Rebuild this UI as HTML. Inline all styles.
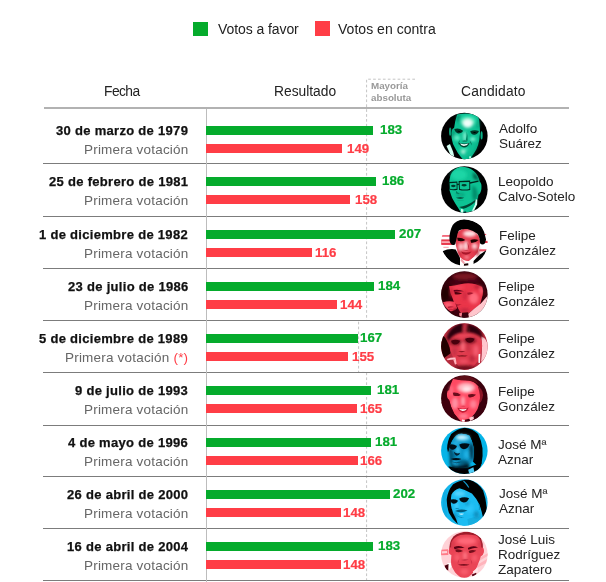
<!DOCTYPE html><html><head><meta charset="utf-8"><title>Investiduras</title><style>
html,body{margin:0;padding:0;background:#fff;}
body{width:606px;height:582px;position:relative;overflow:hidden;font-family:"Liberation Sans",sans-serif;color:#222;-webkit-font-smoothing:antialiased;}
.a{position:absolute;white-space:nowrap;}
.leg,.hd,.dt,.sub,.vg,.vr,.nm,.may{will-change:transform;}
.leg{font-size:14px;line-height:16px;color:#222;letter-spacing:-0.08px;}
.hd{font-size:13.8px;line-height:16px;color:#222;}
.dt{font-size:13px;line-height:16px;font-weight:bold;color:#111;right:417.7px;text-align:right;letter-spacing:0.3px;-webkit-text-stroke:0.25px #111;}
.sub{font-size:13.5px;line-height:16px;color:#666;right:417.7px;text-align:right;letter-spacing:0.2px;}
.st{color:#ff3d46;}
.bar{height:9.2px;left:206.1px;}
.g{background:#05ab2c;}
.r{background:#ff3d46;}
.vg{font-size:13.3px;line-height:16px;font-weight:bold;color:#05ab2c;-webkit-text-stroke:0.2px #05ab2c;}
.vr{font-size:13.3px;line-height:16px;font-weight:bold;color:#ff3d46;-webkit-text-stroke:0.2px #ff3d46;}
.nm{font-size:13.5px;line-height:14.8px;color:#222;left:499px;}
.sep{left:43.2px;width:525.4px;height:1px;background:#7c7c7c;}
.may{font-size:9.8px;line-height:11.4px;font-weight:bold;color:#999;left:370.8px;top:80.5px;}
</style></head><body>
<svg width="0" height="0" style="position:absolute"><defs><filter id="b6" x="-10%" y="-10%" width="120%" height="120%"><feGaussianBlur stdDeviation="6"/></filter><filter id="b10" x="-10%" y="-10%" width="120%" height="120%"><feGaussianBlur stdDeviation="10"/></filter><filter id="b16" x="-10%" y="-10%" width="120%" height="120%"><feGaussianBlur stdDeviation="16"/></filter><clipPath id="c0"><circle cx="295" cy="292.1" r="260.5"/></clipPath><clipPath id="c1"><circle cx="295" cy="286.5" r="260.5"/></clipPath><clipPath id="c2"><circle cx="295" cy="296.6" r="260.5"/></clipPath><clipPath id="c3"><circle cx="295" cy="285.4" r="260.5"/></clipPath><clipPath id="c4"><circle cx="295" cy="285.4" r="260.5"/></clipPath><clipPath id="c5"><circle cx="295" cy="285.4" r="260.5"/></clipPath><clipPath id="c6"><circle cx="295" cy="287.6" r="260.5"/></clipPath><clipPath id="c7"><circle cx="295" cy="285.4" r="260.5"/></clipPath><clipPath id="c8"><circle cx="295" cy="285.4" r="260.5"/></clipPath></defs></svg>
<div class="a g" style="left:193px;top:21.6px;width:15.3px;height:14.8px"></div>
<div class="a leg" style="left:217.6px;top:20.6px">Votos a favor</div>
<div class="a r" style="left:315.1px;top:21.4px;width:15.4px;height:14.9px"></div>
<div class="a leg" style="left:338px;top:20.6px;letter-spacing:0.03px">Votos en contra</div>
<div class="a hd" style="left:103.6px;top:84px;letter-spacing:-0.55px">Fecha</div>
<div class="a hd" style="left:273.6px;top:84px;letter-spacing:0px">Resultado</div>
<div class="a hd" style="left:461.4px;top:84px;letter-spacing:0.2px">Candidato</div>
<div class="a may" style="top:79.5px">Mayoría</div>
<div class="a may" style="top:92px">absoluta</div>
<svg class="a" style="left:0;top:0" width="606" height="582"><path d="M415 79.2H366.6V320.5H358.6V372.4H366.6V582" fill="none" stroke="#c4c4c4" stroke-width="1" stroke-dasharray="2.7 2.2"/></svg>
<div class="a" style="left:44.2px;top:107px;width:524.4px;height:2px;background:#b2b2b2"></div>
<div class="a sep" style="top:162.9px"></div>
<div class="a sep" style="top:216.0px"></div>
<div class="a sep" style="top:268.0px"></div>
<div class="a sep" style="top:320.0px"></div>
<div class="a sep" style="top:371.9px"></div>
<div class="a sep" style="top:424.9px"></div>
<div class="a sep" style="top:475.9px"></div>
<div class="a sep" style="top:527.7px"></div>
<div class="a sep" style="top:580.0px"></div>
<div class="a" style="left:205.7px;top:109px;width:1.2px;height:474px;background:#bdbdbd"></div>
<div class="a dt" style="top:122.7px">30 de marzo de 1979</div>
<div class="a sub" style="top:141.7px">Primera votación</div>
<div class="a bar g" style="top:126.1px;width:167.0px"></div>
<div class="a bar r" style="top:144.0px;width:136.0px"></div>
<div class="a vg" style="top:122.3px;left:379.5px">183</div>
<div class="a vr" style="top:140.9px;left:347.1px">149</div>
<div class="a nm" style="top:122.2px;left:499.1px">Adolfo<br>Suárez</div>
<svg class="a" style="left:438px;top:110px" width="52" height="52" viewBox="0 0 582 582"><g clip-path="url(#c0)"><rect width="582" height="582" fill="#000"/><g filter="url(#b6)"><path d="M215 50 Q330 22 440 60 L458 100 L468 200 Q476 260 462 335 Q450 400 430 440 Q402 490 376 522 L368 560 L285 560 Q250 520 222 480 Q192 430 168 380 Q155 340 152 300 Q150 250 160 215 L180 200 Q190 120 215 50Z" fill="#09c193"/><ellipse cx="136" cy="243" rx="13" ry="46" fill="#089a75"/><ellipse cx="488" cy="285" rx="12" ry="46" fill="#0ab58a"/></g><g filter="url(#b16)"><path d="M474 240 Q468 360 430 440 Q400 495 376 525 L368 526 Q430 440 454 350 Q462 290 474 240Z" fill="#058262"/><ellipse cx="172" cy="265" rx="12" ry="50" fill="#068a69"/><ellipse cx="232" cy="95" rx="20" ry="45" fill="#068a69"/><ellipse cx="448" cy="150" rx="12" ry="60" fill="#079a76"/><ellipse cx="335" cy="120" rx="90" ry="55" fill="#3ae6b8"/><ellipse cx="332" cy="150" rx="58" ry="48" fill="#f0fffa"/><ellipse cx="300" cy="295" rx="15" ry="55" fill="#a0fae0"/><ellipse cx="212" cy="312" rx="32" ry="28" fill="#62f0c8"/><ellipse cx="388" cy="326" rx="30" ry="22" fill="#8af7da"/><ellipse cx="290" cy="440" rx="50" ry="18" fill="#3ae6b8"/><ellipse cx="282" cy="474" rx="24" ry="15" fill="#e0fff4"/><ellipse cx="340" cy="530" rx="25" ry="10" fill="#07a27c"/></g><g filter="url(#b6)"><path d="M182 214 Q232 196 280 232 Q268 262 225 262 Q190 254 182 214Z" fill="#023527"/><path d="M360 238 Q410 218 458 236 Q445 276 405 278 Q368 272 360 238Z" fill="#023527"/><path d="M212 236 Q232 228 254 240 Q234 252 212 236Z" fill="#000"/><path d="M385 250 Q410 240 432 250 Q410 264 385 250Z" fill="#000"/><path d="M322 240 Q337 300 332 342 Q318 348 312 336 Q322 300 322 240Z" fill="#058262"/><path d="M266 346 Q300 360 334 346 Q300 336 266 346Z" fill="#035a44"/><path d="M245 333 Q220 360 227 395 Q238 365 245 333Z" fill="#035a44"/><path d="M352 338 Q380 365 377 398 Q363 367 352 338Z" fill="#035a44"/><path d="M230 366 Q290 385 354 366 Q337 418 290 421 Q248 414 230 366Z" fill="#034433"/><path d="M246 375 Q292 392 342 375 Q326 402 290 404 Q260 400 246 375Z" fill="#f2fffa"/><path d="M96 402 L134 380 L170 470 L182 520 L140 504Z" fill="#d4fff2"/><path d="M348 520 L366 515 L372 548 L350 552Z" fill="#b0ffe6"/></g></g></svg>
<div class="a dt" style="top:173.6px">25 de febrero de 1981</div>
<div class="a sub" style="top:192.6px">Primera votación</div>
<div class="a bar g" style="top:177.0px;width:169.7px"></div>
<div class="a bar r" style="top:194.9px;width:144.2px"></div>
<div class="a vg" style="top:173.2px;left:381.7px">186</div>
<div class="a vr" style="top:191.8px;left:355.4px">158</div>
<div class="a nm" style="top:175.3px;left:498.4px">Leopoldo<br>Calvo-Sotelo</div>
<svg class="a" style="left:438px;top:164px" width="52" height="52" viewBox="0 0 582 582"><g clip-path="url(#c1)"><rect width="582" height="582" fill="#000"/><g filter="url(#b6)"><path d="M140 125 Q175 55 250 32 Q335 28 400 78 Q450 120 468 200 Q492 215 486 280 Q478 330 452 345 Q448 380 438 400 L400 525 L262 552 Q225 490 195 445 Q150 380 130 300 Q118 200 140 125Z" fill="#0bc394"/></g><g filter="url(#b16)"><ellipse cx="235" cy="120" rx="90" ry="60" fill="#1fd6a6"/><path d="M395 90 Q450 130 462 200 Q440 170 400 165 Q385 130 395 90Z" fill="#035a44"/><path d="M380 240 Q440 250 445 350 Q435 400 415 420 Q380 400 385 330 Q390 280 380 240Z" fill="#068a69"/><ellipse cx="250" cy="345" rx="50" ry="14" fill="#079a76"/></g><g filter="url(#b6)"><path d="M235 482 Q320 475 424 398 L426 418 Q350 490 285 500Z" fill="#034433"/><path d="M422 398 L440 396 L438 452 L402 524 L380 524 L414 452Z" fill="#d4fff2"/><path d="M256 505 L284 508 L284 552 L258 552Z" fill="#d4fff2"/><path d="M284 534 L314 532 L316 556 L284 556Z" fill="#012"/><path d="M119 202 L216 195 L219 287 Q170 300 126 286Z M129 216 L207 210 L209 278 Q170 288 135 277Z" fill="#02281e" fill-rule="evenodd"/><path d="M231 190 L360 186 L361 290 Q300 304 236 290Z M242 205 L350 201 L351 280 Q300 292 246 280Z" fill="#02281e" fill-rule="evenodd"/><path d="M355 204 L452 186 L454 200 L358 222Z" fill="#02281e"/><path d="M214 222 L234 220 L234 236 L214 238Z" fill="#02281e"/><ellipse cx="172" cy="246" rx="26" ry="13" fill="#023a2c"/><ellipse cx="292" cy="238" rx="30" ry="13" fill="#023a2c"/><path d="M200 378 Q250 368 294 378 Q250 398 200 378Z" fill="#023a2c"/><path d="M205 300 Q215 325 245 330 Q225 340 200 328Z" fill="#058262"/><path d="M205 405 Q250 420 295 405 Q250 412 205 405Z" fill="#058262"/></g></g></svg>
<div class="a dt" style="top:226.6px">1 de diciembre de 1982</div>
<div class="a sub" style="top:245.7px">Primera votación</div>
<div class="a bar g" style="top:230.0px;width:188.9px"></div>
<div class="a bar r" style="top:248.0px;width:105.9px"></div>
<div class="a vg" style="top:226.2px;left:399.1px">207</div>
<div class="a vr" style="top:244.9px;left:315.4px">116</div>
<div class="a nm" style="top:229.1px;left:498.6px">Felipe<br>González</div>
<svg class="a" style="left:438px;top:216px" width="52" height="52" viewBox="0 0 582 582"><g clip-path="url(#c2)"><rect width="582" height="582" fill="#fff"/><g filter="url(#b6)"><rect x="30" y="214" width="110" height="18" fill="#f2566a"/><rect x="30" y="262" width="130" height="62" fill="#e8384c"/><rect x="38" y="284" width="95" height="16" fill="#ffc8ce"/><rect x="515" y="200" width="40" height="14" fill="#f2566a"/><rect x="490" y="278" width="70" height="24" fill="#e8384c"/><rect x="462" y="372" width="90" height="24" fill="#f2566a"/><rect x="60" y="345" width="60" height="10" fill="#f8909c"/></g><g filter="url(#b6)"><path d="M205 200 Q260 130 340 140 Q440 160 472 270 Q470 340 445 400 Q410 465 345 504 Q290 508 250 462 Q212 400 200 330 Q198 260 205 200Z" fill="#e43c50"/><path d="M244 466 L290 512 L350 510 L402 460 L402 570 L244 570Z" fill="#fff"/></g><g filter="url(#b16)"><ellipse cx="355" cy="198" rx="75" ry="34" fill="#ffe4e7"/><ellipse cx="312" cy="335" rx="18" ry="55" fill="#fff"/><ellipse cx="255" cy="345" rx="28" ry="42" fill="#ffc8ce"/><ellipse cx="408" cy="338" rx="30" ry="32" fill="#ffd0d6"/><ellipse cx="322" cy="462" rx="28" ry="16" fill="#ff98a4"/><ellipse cx="240" cy="420" rx="16" ry="40" fill="#c42c40"/><ellipse cx="440" cy="400" rx="20" ry="50" fill="#c02a3e"/></g><g filter="url(#b6)"><path d="M128 250 Q128 170 165 100 Q200 50 290 36 Q400 45 482 110 Q528 185 538 262 L526 304 Q498 332 470 304 Q470 240 440 200 Q400 165 330 146 Q262 138 232 165 Q212 200 206 262 L194 312 Q165 342 140 304 Q126 280 128 250Z" fill="#000"/><path d="M214 244 Q262 236 306 268 Q268 292 222 278Z" fill="#1a0004"/><path d="M364 268 Q410 253 454 270 Q420 304 370 298Z" fill="#1a0004"/><path d="M332 296 Q354 340 348 376 Q334 362 332 296Z" fill="#c42c40"/><path d="M282 384 Q315 394 346 382 Q315 376 282 384Z" fill="#c42c40"/><path d="M256 398 Q315 420 376 396 Q346 436 300 432 Q270 426 256 398Z" fill="#a8182c"/><path d="M50 394 Q120 362 198 374 L246 466 L246 570 L150 525 Q80 455 50 394Z" fill="#000"/><path d="M398 504 Q432 468 470 432 L540 382 Q535 455 450 528 L398 560Z" fill="#000"/><path d="M292 534 L338 530 L342 570 L288 570Z" fill="#1a0004"/><path d="M262 470 L300 520 L290 540 L252 500Z" fill="#f0a0aa"/></g></g></svg>
<div class="a dt" style="top:278.6px">23 de julio de 1986</div>
<div class="a sub" style="top:297.7px">Primera votación</div>
<div class="a bar g" style="top:282.0px;width:167.9px"></div>
<div class="a bar r" style="top:300.0px;width:131.4px"></div>
<div class="a vg" style="top:278.2px;left:377.9px">184</div>
<div class="a vr" style="top:296.9px;left:340.2px">144</div>
<div class="a nm" style="top:280.4px;left:498.4px">Felipe<br>González</div>
<svg class="a" style="left:438px;top:269px" width="52" height="52" viewBox="0 0 582 582"><g clip-path="url(#c3)"><rect width="582" height="582" fill="#34000a"/><g filter="url(#b16)"><ellipse cx="300" cy="85" rx="140" ry="40" fill="#7a1222"/><ellipse cx="380" cy="135" rx="90" ry="25" fill="#4a0612"/><ellipse cx="200" cy="150" rx="80" ry="22" fill="#4a0612"/><ellipse cx="80" cy="280" rx="45" ry="80" fill="#240005"/></g><g filter="url(#b6)"><path d="M123 192 Q190 186 250 170 Q340 150 420 170 Q470 187 495 202 Q510 250 500 292 Q485 350 470 400 L330 505 Q270 500 248 480 Q225 448 215 420 L200 392 Q172 378 168 340 Q135 270 123 192Z" fill="#ea344a"/><path d="M56 372 Q120 352 190 368 L215 440 Q190 480 140 472 Q85 442 56 372Z" fill="#f03e54"/><path d="M335 505 Q400 445 480 385 L560 295 L560 400 Q480 485 400 536 L345 548Z" fill="#ffc6cc"/><path d="M238 492 L272 488 L262 536 L238 520Z" fill="#ff8494"/></g><g filter="url(#b16)"><ellipse cx="400" cy="325" rx="55" ry="65" fill="#ff6a7c"/><ellipse cx="484" cy="242" rx="13" ry="40" fill="#ff7082"/><ellipse cx="230" cy="205" rx="70" ry="14" fill="#f8485e"/><ellipse cx="115" cy="400" rx="42" ry="20" fill="#ff7080"/><ellipse cx="200" cy="478" rx="26" ry="32" fill="#44000c"/><ellipse cx="300" cy="462" rx="50" ry="25" fill="#c82840"/><ellipse cx="300" cy="300" rx="30" ry="50" fill="#d42c42"/><ellipse cx="440" cy="200" rx="40" ry="20" fill="#c02238"/><ellipse cx="150" cy="260" rx="14" ry="50" fill="#c02238"/></g><g filter="url(#b6)"><path d="M174 236 Q230 222 290 248 Q232 252 178 254Z" fill="#64061a"/><path d="M184 258 Q225 250 270 275 Q228 292 188 282Z" fill="#500410"/><path d="M328 266 Q360 254 398 270 Q360 294 330 286Z" fill="#a8182e"/><path d="M198 392 Q230 402 264 392 Q235 412 208 410Z" fill="#a8182e"/><path d="M268 490 L338 484 L342 548 L272 548Z" fill="#3a000a"/><path d="M110 422 Q150 410 182 426 Q150 434 114 436Z" fill="#b01c32"/><path d="M120 446 Q150 440 176 450 Q150 458 124 456Z" fill="#c02238"/><path d="M500 200 Q540 220 548 290 L510 300 Q512 250 500 200Z" fill="#44000c"/></g></g></svg>
<div class="a dt" style="top:330.6px">5 de diciembre de 1989</div>
<div class="a sub" style="top:349.7px">Primera votación <span class='st'>(*)</span></div>
<div class="a bar g" style="top:334.0px;width:152.4px"></div>
<div class="a bar r" style="top:352.0px;width:141.5px"></div>
<div class="a vg" style="top:330.2px;left:359.7px">167</div>
<div class="a vr" style="top:348.9px;left:351.7px">155</div>
<div class="a nm" style="top:332.0px;left:497.7px">Felipe<br>González</div>
<svg class="a" style="left:438px;top:321px" width="52" height="52" viewBox="0 0 582 582"><g clip-path="url(#c4)"><rect width="582" height="582" fill="#b42a3c"/><g filter="url(#b6)"><path d="M20 180 L62 168 Q100 200 130 300 L142 362 L68 414 Q20 320 20 180Z" fill="#200006"/><path d="M484 170 Q560 200 560 300 Q545 420 482 458 Q502 300 484 170Z" fill="#ffc6ce"/><path d="M130 170 Q200 112 300 112 Q400 112 470 150 Q492 230 495 280 Q484 370 445 450 Q402 512 340 552 L300 552 Q240 524 200 472 Q165 402 140 332 Q118 250 130 170Z" fill="#e03a4e"/></g><g filter="url(#b16)"><ellipse cx="300" cy="168" rx="80" ry="18" fill="#ec485c"/><ellipse cx="278" cy="290" rx="16" ry="52" fill="#ff7888"/><ellipse cx="425" cy="330" rx="30" ry="65" fill="#f45c70"/><ellipse cx="185" cy="340" rx="28" ry="50" fill="#c83246"/><ellipse cx="340" cy="300" rx="22" ry="40" fill="#c83246"/><ellipse cx="285" cy="450" rx="50" ry="22" fill="#ee5064"/><ellipse cx="300" cy="528" rx="120" ry="34" fill="#700c1c"/><ellipse cx="380" cy="420" rx="30" ry="40" fill="#c02c40"/><ellipse cx="198" cy="238" rx="70" ry="34" fill="#7a1020"/><ellipse cx="357" cy="220" rx="70" ry="34" fill="#7a1020"/></g><g filter="url(#b10)"><path d="M96 185 Q135 70 250 28 Q350 16 448 66 Q505 112 498 200 Q445 140 350 128 Q250 122 195 150 Q150 172 120 225Z" fill="#4a0812"/><path d="M112 150 Q160 60 250 28 L284 36 Q258 90 250 130 Q172 142 118 205Z" fill="#2c0308"/><path d="M282 33 Q300 27 324 33 Q318 80 314 122 L280 122 Q280 70 282 33Z" fill="#c83246"/><path d="M350 40 Q440 66 494 170 Q440 124 365 122Z" fill="#2c0308"/></g><g filter="url(#b6)"><path d="M146 220 Q195 200 248 222 Q232 262 190 264 Q152 256 146 220Z" fill="#480610"/><path d="M304 200 Q355 178 410 198 Q394 240 350 244 Q312 236 304 200Z" fill="#480610"/><path d="M226 342 Q265 356 308 340 Q265 330 226 342Z" fill="#8a1422"/><path d="M206 388 Q270 376 334 388 Q270 408 206 388Z" fill="#7a0e1c"/><path d="M98 424 Q150 404 196 408 L198 430 Q150 428 108 440Z" fill="#ffc0c8"/><path d="M170 430 L200 425 L208 480 L190 486Z" fill="#ffb0ba"/><path d="M454 372 L474 366 L470 470 L452 468Z" fill="#fff"/></g></g></svg>
<div class="a dt" style="top:382.6px">9 de julio de 1993</div>
<div class="a sub" style="top:401.7px">Primera votación</div>
<div class="a bar g" style="top:386.0px;width:165.2px"></div>
<div class="a bar r" style="top:404.0px;width:150.6px"></div>
<div class="a vg" style="top:382.2px;left:377.3px">181</div>
<div class="a vr" style="top:400.9px;left:359.6px">165</div>
<div class="a nm" style="top:385.3px;left:497.5px">Felipe<br>González</div>
<svg class="a" style="left:438px;top:373px" width="52" height="52" viewBox="0 0 582 582"><g clip-path="url(#c5)"><rect width="582" height="582" fill="#3a000c"/><g filter="url(#b6)"><path d="M170 62 Q250 80 350 80 Q430 100 470 180 Q480 250 465 330 Q448 410 410 462 Q365 515 310 552 L268 548 Q225 512 180 452 Q140 380 125 300 Q98 290 100 230 Q105 190 125 195 Q140 120 170 62Z" fill="#ff4862"/><path d="M445 150 Q500 170 505 250 Q490 330 465 335 Q482 250 445 150Z" fill="#8a1426"/></g><g filter="url(#b16)"><ellipse cx="315" cy="165" rx="100" ry="55" fill="#ffb6c0"/><ellipse cx="322" cy="182" rx="45" ry="32" fill="#ffe6ea"/><ellipse cx="280" cy="315" rx="20" ry="55" fill="#ffb0bc"/><ellipse cx="190" cy="340" rx="38" ry="65" fill="#ff90a2"/><ellipse cx="395" cy="350" rx="38" ry="48" fill="#ff8296"/><ellipse cx="285" cy="482" rx="50" ry="26" fill="#ff8296"/><ellipse cx="150" cy="200" rx="20" ry="60" fill="#ff7086"/></g><g filter="url(#b6)"><path d="M172 58 Q250 28 330 32 Q420 50 462 132 Q420 96 350 86 Q250 86 172 68Z" fill="#5a0814"/><path d="M166 220 Q215 213 257 245 Q215 267 173 252Z" fill="#6a0a1a"/><path d="M336 244 Q380 228 426 244 Q390 280 343 272Z" fill="#6a0a1a"/><path d="M250 370 Q280 380 310 368 Q280 362 250 370Z" fill="#d02840"/><path d="M216 390 Q280 410 344 386 Q322 447 275 444 Q233 434 216 390Z" fill="#c41c34"/><path d="M234 401 Q280 414 324 399 Q306 428 275 426 Q250 422 234 401Z" fill="#fff"/><path d="M36 330 Q100 290 126 310 Q145 385 182 455 L230 515 L150 500 Q70 430 36 330Z" fill="#40000c"/><path d="M385 485 Q440 415 530 370 Q520 450 440 522 L370 548Z" fill="#3a000c"/><path d="M268 520 L302 526 L296 556 L270 552Z" fill="#fff"/><path d="M348 500 L398 484 L402 515 L360 536Z" fill="#ffc8d0"/><path d="M302 524 L350 512 L356 556 L300 556Z" fill="#40000c"/></g></g></svg>
<div class="a dt" style="top:434.6px">4 de mayo de 1996</div>
<div class="a sub" style="top:453.7px">Primera votación</div>
<div class="a bar g" style="top:438.0px;width:165.2px"></div>
<div class="a bar r" style="top:456.0px;width:151.5px"></div>
<div class="a vg" style="top:434.2px;left:375.3px">181</div>
<div class="a vr" style="top:452.9px;left:359.6px">166</div>
<div class="a nm" style="top:437.5px;left:497.8px">José Mª<br>Aznar</div>
<svg class="a" style="left:438px;top:425px" width="52" height="52" viewBox="0 0 582 582"><g clip-path="url(#c6)"><rect width="582" height="582" fill="#04b4e8"/><g filter="url(#b6)"><path d="M102 262 Q102 180 148 100 Q215 42 300 30 Q390 42 448 100 Q485 170 498 260 Q505 350 488 430 L440 455 L392 410 Q405 330 398 250 Q385 175 352 120 Q300 92 232 100 Q172 135 146 205 L130 262 L112 305Z" fill="#000"/><path d="M116 462 Q250 495 340 475 L490 420 Q475 505 400 550 Q300 580 200 550 Q140 512 116 462Z" fill="#000"/></g><g filter="url(#b6)"><path d="M146 205 Q172 135 232 100 Q300 92 352 120 Q385 175 398 250 Q405 330 392 405 Q355 440 300 470 Q220 490 160 468 Q135 420 138 380 Q125 320 128 262Z" fill="#0996c8"/></g><g filter="url(#b16)"><ellipse cx="275" cy="142" rx="80" ry="34" fill="#86e2ff"/><ellipse cx="262" cy="132" rx="45" ry="20" fill="#d4f6ff"/><ellipse cx="222" cy="282" rx="15" ry="40" fill="#50d0fa"/><ellipse cx="325" cy="330" rx="36" ry="45" fill="#1cb2e6"/><ellipse cx="200" cy="202" rx="40" ry="14" fill="#30c0f0"/><ellipse cx="205" cy="425" rx="45" ry="14" fill="#18a8dc"/><path d="M136 445 Q230 470 340 425 L360 480 Q250 510 150 490Z" fill="#001018"/><path d="M122 262 Q138 330 134 440 L164 440 Q154 330 154 262Z" fill="#012234"/><ellipse cx="372" cy="300" rx="22" ry="95" fill="#012a40"/><ellipse cx="280" cy="415" rx="70" ry="22" fill="#045878"/><ellipse cx="175" cy="340" rx="24" ry="40" fill="#056a92"/></g><g filter="url(#b6)"><path d="M120 222 Q165 204 212 236 Q198 278 160 278 Q126 270 120 222Z" fill="#000c14"/><path d="M238 218 Q295 190 354 214 Q338 268 290 272 Q246 264 238 218Z" fill="#000c14"/><path d="M178 300 Q210 330 246 314 Q238 344 205 344 Q182 336 178 300Z" fill="#012234"/><path d="M144 380 Q200 360 262 380 Q200 410 144 380Z" fill="#000c14"/><path d="M158 412 Q205 426 257 412 Q210 444 158 412Z" fill="#013850"/><path d="M338 502 L396 474 L408 530 L350 552Z" fill="#50ccf5"/></g></g></svg>
<div class="a dt" style="top:486.6px">26 de abril de 2000</div>
<div class="a sub" style="top:505.7px">Primera votación</div>
<div class="a bar g" style="top:490.0px;width:184.3px"></div>
<div class="a bar r" style="top:508.0px;width:135.1px"></div>
<div class="a vg" style="top:486.2px;left:393.2px">202</div>
<div class="a vr" style="top:504.9px;left:342.6px">148</div>
<div class="a nm" style="top:487.1px;left:499.2px">José Mª<br>Aznar</div>
<svg class="a" style="left:438px;top:477px" width="52" height="52" viewBox="0 0 582 582"><g clip-path="url(#c7)"><rect width="582" height="582" fill="#14b6ec"/><g filter="url(#b10)"><rect x="62" y="100" width="28" height="400" fill="#0ea6da"/></g><g filter="url(#b6)"><path d="M140 200 Q170 140 240 125 Q320 140 380 185 Q430 240 462 305 Q505 290 498 340 Q490 380 478 400 L430 480 L400 560 L290 560 Q250 530 200 480 Q150 400 136 300Z" fill="#1cbcf2"/><path d="M330 470 Q420 440 520 430 L480 520 L400 560 L340 560Z" fill="#16aee0"/></g><g filter="url(#b16)"><ellipse cx="240" cy="185" rx="65" ry="30" fill="#54d4ff"/><ellipse cx="208" cy="320" rx="16" ry="35" fill="#54d4ff"/><ellipse cx="350" cy="350" rx="45" ry="55" fill="#2cc6fa"/><ellipse cx="430" cy="420" rx="30" ry="40" fill="#0a90c0"/><ellipse cx="188" cy="440" rx="25" ry="45" fill="#0a90c0"/><ellipse cx="330" cy="300" rx="20" ry="30" fill="#0a98cc"/></g><g filter="url(#b6)"><path d="M98 250 Q108 150 170 80 Q250 32 350 26 Q445 62 505 150 Q540 250 546 350 Q538 425 505 462 Q492 385 462 305 Q430 240 380 185 Q320 145 240 125 Q176 142 150 198 Q140 260 146 320 Q158 400 206 478 L222 528 Q160 474 122 400 Q96 320 98 250Z" fill="#000"/><path d="M285 45 Q320 75 345 118" stroke="#1496c8" stroke-width="12" fill="none"/><path d="M134 256 Q180 240 224 266 Q208 300 175 300 Q140 292 134 256Z" fill="#000c14"/><path d="M238 240 Q295 216 348 238 Q328 284 288 286 Q245 278 238 240Z" fill="#000c14"/><path d="M190 350 Q215 362 238 350 Q215 345 190 350Z" fill="#0a7aa6"/><path d="M190 380 Q260 352 330 376 Q265 410 190 380Z" fill="#045a7c"/><path d="M232 412 Q262 406 292 412 Q262 432 232 412Z" fill="#dff8ff"/><path d="M200 420 Q230 456 295 448 Q240 472 200 420Z" fill="#067aa6"/><path d="M455 300 Q470 330 462 370" stroke="#0a88b8" stroke-width="8" fill="none"/></g></g></svg>
<div class="a dt" style="top:538.6px">16 de abril de 2004</div>
<div class="a sub" style="top:557.6px">Primera votación</div>
<div class="a bar g" style="top:542.0px;width:167.0px"></div>
<div class="a bar r" style="top:559.9px;width:135.1px"></div>
<div class="a vg" style="top:538.2px;left:377.7px">183</div>
<div class="a vr" style="top:556.8px;left:342.6px">148</div>
<div class="a nm" style="top:533.3px;left:498.0px">José Luis<br>Rodríguez<br>Zapatero</div>
<svg class="a" style="left:438px;top:529px" width="52" height="52" viewBox="0 0 582 582"><g clip-path="url(#c8)"><rect width="582" height="582" fill="#ffd2d7"/><g filter="url(#b6)"><path d="M30 232 L112 226 L116 292 L30 294Z" fill="#ff7c88"/><path d="M45 250 L100 246 L102 270 L45 274Z" fill="#ffd2d7"/><path d="M450 330 L560 270 L560 300 L455 360Z" fill="#ffb4bc"/><path d="M440 400 L560 330 L560 370 L430 440Z" fill="#ffb4bc"/></g><g filter="url(#b6)"><path d="M128 250 Q120 150 172 84 Q240 32 330 32 Q428 44 480 100 Q510 170 504 235 L484 215 L150 262Z" fill="#a01c2c"/><path d="M150 150 Q172 92 250 66 Q330 56 425 72 Q470 100 478 150 L484 208 Q520 200 514 260 Q505 300 478 308 Q468 350 451 385 Q435 430 423 448 Q400 485 375 508 L320 552 L262 548 Q220 520 192 486 Q160 440 146 400 Q145 340 150 292 Q118 285 120 240 Q125 200 146 206Z" fill="#ea4456"/></g><g filter="url(#b16)"><ellipse cx="320" cy="135" rx="110" ry="40" fill="#ff6878"/><ellipse cx="302" cy="300" rx="22" ry="45" fill="#ff7684"/><ellipse cx="215" cy="320" rx="30" ry="40" fill="#f85c6c"/><ellipse cx="410" cy="325" rx="30" ry="40" fill="#f85c6c"/><ellipse cx="295" cy="478" rx="45" ry="32" fill="#f85c6c"/><ellipse cx="165" cy="180" rx="12" ry="50" fill="#c83044"/><ellipse cx="470" cy="170" rx="10" ry="45" fill="#c83044"/></g><g filter="url(#b6)"><path d="M178 202 Q240 172 298 212 Q240 208 184 226Z" fill="#5a0612"/><path d="M334 212 Q390 176 448 206 Q390 210 340 232Z" fill="#5a0612"/><path d="M194 230 Q238 218 280 245 Q238 268 200 256Z" fill="#740c1a"/><path d="M344 246 Q385 226 428 244 Q390 274 348 266Z" fill="#740c1a"/><path d="M258 346 Q300 358 342 344 Q300 336 258 346Z" fill="#b02034"/><path d="M240 330 Q215 365 222 400 Q232 365 240 330Z" fill="#c83044"/><path d="M362 330 Q388 365 380 400 Q370 365 362 330Z" fill="#c83044"/><path d="M222 400 Q290 386 354 400 Q290 424 222 400Z" fill="#7a0c1c"/><path d="M236 428 Q290 440 345 428 Q290 436 236 428Z" fill="#c83044"/><path d="M104 384 L146 378 L150 420 L122 462Z" fill="#fff"/><path d="M72 412 L118 392 L114 468 L90 450Z" fill="#4a040e"/><path d="M378 512 L420 482 L432 505 L392 545Z" fill="#5a0612"/><path d="M390 475 L445 432 L446 478 L396 505Z" fill="#ffe4e8"/></g></g></svg>
</body></html>
